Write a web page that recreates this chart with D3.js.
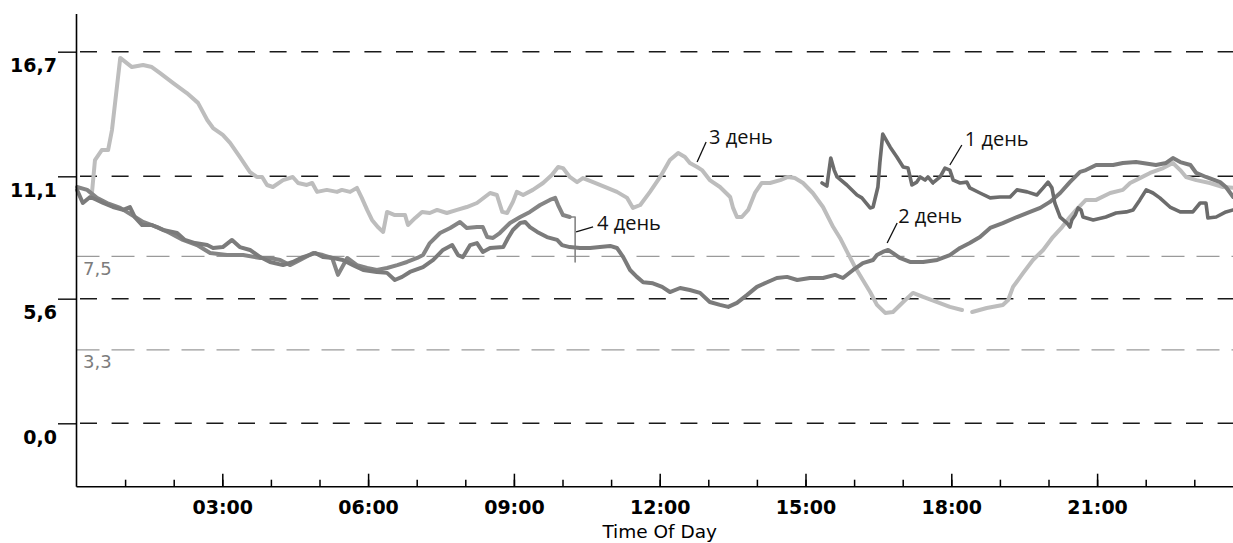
<!DOCTYPE html>
<html>
<head>
<meta charset="utf-8">
<script src="https://cdn.jsdelivr.net/npm/d3@7"></script>
<style>
  html, body { margin: 0; padding: 0; background: #fff; overflow: hidden; }
  svg { display: block; }
</style>
</head>
<body>
<svg id="chart" width="1233" height="543"></svg>
<script>
// Glucose readings (mmol/l) over the time of day, hour -> value.
const day1 = [
  [15.34,10.80],[15.44,10.66],[15.52,11.92],[15.59,11.38],[15.65,11.07],[15.85,10.71],[16.06,10.26],
  [16.16,10.13],[16.33,9.68],[16.39,9.72],[16.49,10.62],[16.53,11.70],[16.59,13.00],[16.74,12.42],
  [16.88,11.97],[17.01,11.52],[17.11,11.47],[17.19,10.71],[17.29,10.84],[17.36,11.07],[17.46,10.93],
  [17.52,11.07],[17.62,10.80],[17.77,11.07],[17.87,11.47],[17.97,11.38],[18.04,10.93],[18.18,10.80],
  [18.32,10.84],[18.38,10.58],[18.59,10.35],[18.80,10.13],[19.00,10.17],[19.21,10.17],[19.35,10.49],
  [19.56,10.40],[19.76,10.26],[19.89,10.58],[19.99,10.84],[20.07,10.58],[20.13,9.90],[20.24,9.27],
  [20.38,9.00],[20.44,8.82],[20.48,9.14],[20.55,9.36],[20.61,9.68],[20.67,9.59],[20.71,9.27],
  [20.92,9.14],[21.18,9.27],[21.39,9.45],[21.60,9.50],[21.74,9.59],[21.88,10.04],[22.01,10.49],
  [22.15,10.35],[22.29,10.13],[22.50,9.72],[22.71,9.50],[22.97,9.50],[23.12,9.90],[23.24,9.90],
  [23.28,9.23],[23.45,9.27],[23.65,9.50],[23.80,9.59]
];

const day2 = [
  [0.01,10.49],[0.13,9.90],[0.28,10.17],[0.42,10.04],[0.55,9.90],[0.75,9.72],[0.96,9.59],[1.10,9.72],
  [1.20,9.27],[1.35,8.91],[1.55,8.91],[1.78,8.69],[2.07,8.55],[2.23,8.24],[2.44,8.10],[2.69,8.01],
  [2.81,7.88],[3.01,7.92],[3.20,8.24],[3.36,7.92],[3.57,7.79],[3.78,7.47],[3.98,7.25],[4.25,7.11],
  [4.45,7.25],[4.66,7.47],[4.91,7.65],[5.07,7.47],[5.28,7.43],[5.48,7.34],[5.69,7.11],[5.90,6.89],
  [6.18,6.80],[6.39,6.76],[6.55,6.44],[6.70,6.58],[6.86,6.80],[7.13,7.02],[7.34,7.34],[7.54,7.79],
  [7.73,8.01],[7.85,7.56],[7.95,7.47],[8.10,8.01],[8.24,8.10],[8.36,7.70],[8.51,7.88],[8.78,7.92],
  [8.88,8.33],[8.98,8.69],[9.13,9.00],[9.23,9.05],[9.33,8.82],[9.48,8.60],[9.68,8.37],[9.89,8.24],
  [9.99,8.01],[10.15,7.92],[10.36,7.88],[10.57,7.88],[10.77,7.92],[10.98,7.97],[11.12,7.88],
  [11.25,7.47],[11.39,6.89],[11.53,6.58],[11.66,6.34],[11.86,6.29],[12.05,6.13],[12.21,5.90],
  [12.42,6.08],[12.62,5.99],[12.83,5.86],[13.03,5.45],[13.24,5.32],[13.41,5.23],[13.59,5.41],
  [13.80,5.77],[14.00,6.13],[14.21,6.34],[14.41,6.53],[14.62,6.58],[14.83,6.44],[15.09,6.53],
  [15.36,6.53],[15.61,6.67],[15.77,6.53],[15.98,6.89],[16.18,7.20],[16.39,7.34],[16.47,7.56],
  [16.59,7.70],[16.70,7.79],[16.80,7.65],[16.94,7.43],[17.15,7.25],[17.42,7.25],[17.71,7.34],
  [17.97,7.56],[18.18,7.88],[18.38,8.10],[18.59,8.37],[18.80,8.78],[19.06,9.00],[19.35,9.27],
  [19.62,9.50],[19.83,9.68],[20.03,9.95],[20.24,10.35],[20.44,10.84],[20.65,11.30],[20.77,11.38],
  [20.98,11.61],[21.33,11.61],[21.53,11.70],[21.80,11.74],[22.21,11.61],[22.42,11.70],[22.56,11.92],
  [22.71,11.74],[22.92,11.61],[23.04,11.25],[23.24,11.07],[23.53,10.84],[23.65,10.62],[23.80,10.17]
];

// null marks the break in the sensor record
const day3 = [
  [0.32,10.40],[0.38,11.83],[0.52,12.28],[0.65,12.28],[0.73,13.18],[0.90,16.42],[1.14,16.01],
  [1.37,16.10],[1.55,16.01],[1.72,15.74],[1.99,15.29],[2.27,14.84],[2.50,14.40],[2.69,13.63],
  [2.81,13.27],[3.01,12.96],[3.16,12.60],[3.36,11.97],[3.57,11.29],[3.71,11.07],[3.82,11.07],
  [3.92,10.71],[4.04,10.62],[4.25,10.93],[4.45,11.07],[4.56,10.80],[4.74,10.71],[4.85,10.80],
  [4.95,10.40],[5.15,10.49],[5.36,10.40],[5.46,10.49],[5.63,10.40],[5.77,10.58],[5.87,10.13],
  [5.98,9.59],[6.08,9.14],[6.20,8.82],[6.31,8.60],[6.39,9.50],[6.55,9.36],[6.76,9.36],[6.82,8.91],
  [6.97,9.23],[7.11,9.50],[7.27,9.45],[7.42,9.59],[7.62,9.45],[7.83,9.59],[8.03,9.72],[8.24,9.90],
  [8.51,10.35],[8.65,10.26],[8.76,9.50],[8.86,9.45],[8.98,9.95],[9.06,10.40],[9.19,10.26],
  [9.39,10.49],[9.60,10.80],[9.78,11.16],[9.91,11.52],[10.01,11.47],[10.15,11.07],[10.30,10.84],
  [10.42,11.02],[10.63,10.84],[10.92,10.58],[11.12,10.40],[11.33,10.13],[11.45,9.68],[11.60,9.81],
  [11.80,10.40],[12.01,11.07],[12.21,11.83],[12.38,12.15],[12.52,11.97],[12.62,11.70],[12.77,11.52],
  [12.87,11.38],[13.03,10.93],[13.24,10.62],[13.45,10.17],[13.51,9.68],[13.59,9.27],[13.69,9.27],
  [13.82,9.59],[13.96,10.35],[14.10,10.80],[14.27,10.80],[14.48,10.93],[14.64,11.07],[14.78,11.02],
  [14.95,10.80],[15.15,10.35],[15.36,9.72],[15.57,8.82],[15.71,8.33],[15.87,7.65],[16.02,7.02],
  [16.18,6.44],[16.33,5.90],[16.47,5.32],[16.64,4.96],[16.80,5.00],[17.01,5.45],[17.21,5.86],
  [17.42,5.68],[17.71,5.45],[17.97,5.23],[18.22,5.09],[18.32,null],[18.43,5.00],[18.73,5.18],
  [19.06,5.32],[19.17,5.54],[19.27,6.13],[19.48,6.76],[19.68,7.34],[19.89,7.79],[20.09,8.37],
  [20.28,8.82],[20.44,9.27],[20.57,9.59],[20.77,10.04],[20.98,10.04],[21.27,10.35],[21.53,10.49],
  [21.68,10.80],[21.88,11.02],[22.09,11.25],[22.36,11.47],[22.56,11.70],[22.71,11.38],[22.83,11.07],
  [23.04,10.93],[23.32,10.80],[23.59,10.62],[23.80,10.58]
];

const day4 = [
  [0.01,10.62],[0.22,10.49],[0.42,10.13],[0.63,9.90],[0.90,9.68],[1.14,9.36],[1.37,9.05],[1.66,8.82],
  [1.92,8.55],[2.19,8.24],[2.48,8.01],[2.75,7.65],[3.10,7.56],[3.43,7.56],[3.78,7.43],[3.98,7.43],
  [4.19,7.34],[4.39,7.11],[4.60,7.34],[4.87,7.65],[5.07,7.56],[5.26,7.43],[5.38,6.67],[5.57,7.43],
  [5.77,7.11],[5.98,6.98],[6.18,6.89],[6.39,6.98],[6.60,7.11],[6.80,7.25],[7.01,7.43],[7.13,7.56],
  [7.27,8.10],[7.48,8.55],[7.69,8.78],[7.89,9.05],[8.03,8.78],[8.24,8.82],[8.36,8.82],[8.45,8.37],
  [8.57,8.33],[8.71,8.55],[8.92,9.00],[9.13,9.27],[9.33,9.50],[9.54,9.81],[9.74,10.04],[9.85,10.13],
  [9.91,9.81],[10.01,9.36],[10.15,9.27]
];
// last readings of day 4: sharp drop before the record ends
const day4Tail = [[10.15,9.27],[10.26,9.27],[10.26,7.25]];

// Reference levels
const mainLevels = [0, 5.6, 11.1, 16.7];
const targetLevels = [7.5, 3.3];

// Time axis
const majorHours = [3, 6, 9, 12, 15, 18, 21];
const minorHours = d3.range(1, 24);
const majorLabels = ["03:00", "06:00", "09:00", "12:00", "15:00", "18:00", "21:00"];
const xTitle = "Time Of Day";

// Series labels and the reading each caption points at
const seriesNames = ["1 день", "2 день", "3 день", "4 день"];
const captionHours = [17.97, 16.68, 12.77, 10.28];
const captionValues = [11.61, 8.10, 11.74, 8.60];

// ---------------------------------------------------------------
const W = 1233, H = 543;
const svg = d3.select("#chart");

const x = d3.scaleLinear().domain([0, 24]).range([76.5, 1242.9]);
const y = d3.scaleLinear().domain([0, 16.7]).range([423.3, 51.7]);
const axisTop = 14, axisBottom = 486.7;

const ru = d3.formatLocale({ decimal: ",", thousands: " ", grouping: [3], currency: ["", ""] });
const fmt = ru.format(".1f");

// target range lines (grey, long dashes)
const grid = svg.append("g");
grid.selectAll("line.target").data(targetLevels).join("line")
  .attr("x1", x(0)).attr("x2", W)
  .attr("y1", d => y(d)).attr("y2", d => y(d))
  .attr("stroke", "#9a9a9a").attr("stroke-width", 1.3)
  .attr("stroke-dasharray", "23,12");
grid.selectAll("text.target").data(targetLevels).join("text")
  .attr("x", x(0) + 6.5).attr("y", d => y(d) + 18.5)
  .attr("fill", "#7c7c7c")
  .style("font-family", "'DejaVu Sans', sans-serif").style("font-size", "18px")
  .text(d => fmt(d));

// main levels (black dashes)
grid.selectAll("line.main").data(mainLevels).join("line")
  .attr("x1", x(0) + 3.5).attr("x2", W)
  .attr("y1", d => y(d)).attr("y2", d => y(d))
  .attr("stroke", "#1a1a1a").attr("stroke-width", 1.5)
  .attr("stroke-dasharray", "17,14.6");

// series
const line = d3.line()
  .defined(d => d[1] != null)
  .x(d => x(d[0])).y(d => y(d[1]));

const plot = svg.append("g")
  .attr("fill", "none")
  .attr("stroke-linejoin", "round")
  .attr("stroke-linecap", "round");

plot.append("path").datum(day3).attr("d", line)
  .attr("stroke", "#bdbdbd").attr("stroke-width", 4);
plot.append("path").datum(day4).attr("d", line)
  .attr("stroke", "#858585").attr("stroke-width", 4);
plot.append("path").datum(day4Tail).attr("d", line)
  .attr("stroke", "#858585").attr("stroke-width", 1.6);
plot.append("path").datum(day2).attr("d", line)
  .attr("stroke", "#7b7b7b").attr("stroke-width", 4);
plot.append("path").datum(day1).attr("d", line)
  .attr("stroke", "#6c6c6c").attr("stroke-width", 3.6);

// captions with short leader lines
const leaderDx = [12, 10, 9, 17];
const leaderDy = [-20, -20, -20, -5];
const textDx = [15, 11, 12, 21];
const textDy = [-19, -20, -18, -2];
const captions = svg.append("g")
  .style("font-family", "'Open Sans', sans-serif").style("font-size", "20px");
seriesNames.forEach((name, i) => {
  const px = x(captionHours[i]), py = y(captionValues[i]);
  captions.append("line")
    .attr("x1", px).attr("y1", py)
    .attr("x2", px + leaderDx[i]).attr("y2", py + leaderDy[i])
    .attr("stroke", "#111").attr("stroke-width", 1.3);
  captions.append("text")
    .attr("x", px + textDx[i]).attr("y", py + textDy[i])
    .attr("fill", "#111")
    .text(name);
});

// y axis
const yAxis = d3.axisLeft(y)
  .tickValues(mainLevels)
  .tickSize(18.5)
  .tickPadding(0)
  .tickFormat(fmt);
const gy = svg.append("g").attr("transform", `translate(${x(0)},0)`).call(yAxis);
gy.select(".domain").remove();
gy.selectAll(".tick line").attr("stroke", "#1a1a1a").attr("stroke-width", 1.5);
gy.selectAll(".tick text")
  .attr("x", -19.5).attr("dy", null).attr("y", 20)
  .attr("fill", "#000")
  .style("font-family", "'DejaVu Sans', sans-serif")
  .style("font-weight", "bold").style("font-size", "19px");
svg.append("line")
  .attr("x1", x(0)).attr("x2", x(0))
  .attr("y1", axisTop).attr("y2", axisBottom)
  .attr("stroke", "#000").attr("stroke-width", 1.6);

// x axis: hourly minor ticks, labelled ticks every three hours
const gxMinor = svg.append("g").attr("transform", `translate(0,${axisBottom})`)
  .call(d3.axisBottom(x).tickValues(minorHours).tickSize(-7).tickFormat(""));
gxMinor.select(".domain").remove();
gxMinor.selectAll(".tick line").attr("stroke", "#000").attr("stroke-width", 1.5);

const gx = svg.append("g").attr("transform", `translate(0,${axisBottom})`)
  .call(d3.axisBottom(x).tickValues(majorHours).tickSize(-13)
    .tickFormat((d, i) => majorLabels[i]));
gx.select(".domain").remove();
gx.selectAll(".tick line").attr("stroke", "#000").attr("stroke-width", 1.5);
gx.selectAll(".tick text")
  .attr("y", 27.5).attr("dy", null)
  .attr("fill", "#000")
  .style("font-family", "'DejaVu Sans', sans-serif")
  .style("font-weight", "bold").style("font-size", "19px");

svg.append("line")
  .attr("x1", x(0)).attr("x2", W)
  .attr("y1", axisBottom).attr("y2", axisBottom)
  .attr("stroke", "#000").attr("stroke-width", 1.6);

svg.append("text")
  .attr("x", x(12)).attr("y", 538)
  .attr("text-anchor", "middle")
  .attr("fill", "#000")
  .style("font-family", "'DejaVu Sans', sans-serif").style("font-size", "18.5px")
  .text(xTitle);
</script>
</body>
</html>
